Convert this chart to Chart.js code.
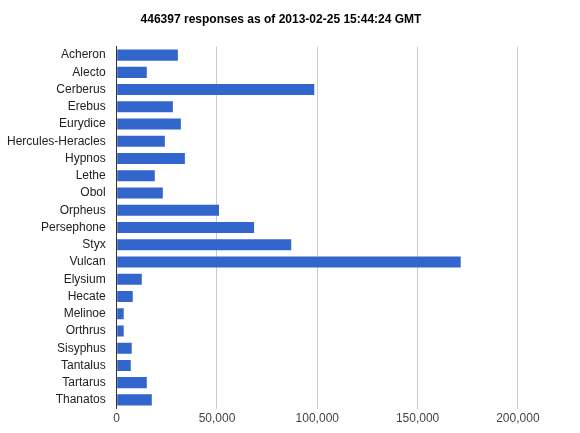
<!DOCTYPE html>
<html><head><meta charset="utf-8">
<script src="https://cdn.jsdelivr.net/npm/chart.js@4"></script>
<style>html,body{margin:0;background:#fff}#wrap{width:580px;height:433px}</style>
</head><body><div id="wrap"><canvas id="c"></canvas></div>
<script>
const labels = ["Acheron","Alecto","Cerberus","Erebus","Eurydice","Hercules-Heracles","Hypnos","Lethe","Obol","Orpheus","Persephone","Styx","Vulcan","Elysium","Hecate","Melinoe","Orthrus","Sisyphus","Tantalus","Tartarus","Thanatos"];
const responses = [30500,15000,98500,28000,32000,24000,34000,19000,23000,51000,68500,87000,171500,12500,8000,3500,3500,7500,7000,15000,17500];
const xTicks = [0,50000,100000,150000,200000];

new Chart(document.getElementById('c'), {
  type: 'bar',
  data: { labels: labels, datasets: [{ data: responses, backgroundColor: '#3366cc', barPercentage: 0.65, categoryPercentage: 1 }] },
  options: {
    indexAxis: 'y', responsive: true, maintainAspectRatio: false, animation: false,
    layout: { padding: { left: 4, right: 22, top: 4, bottom: 4 } },
    plugins: {
      legend: { display: false },
      title: { display: true, text: '446397 responses as of 2013-02-25 15:44:24 GMT', color: '#000', font: { family: 'Arial, Liberation Sans', size: 12, weight: 'bold' }, padding: { top: 8, bottom: 20 } }
    },
    scales: {
      x: { min: 0, max: 220000, afterBuildTicks: a => { a.ticks = xTicks.map(v => ({ value: v })); },
        ticks: { color: '#444', font: { family: 'Arial, Liberation Sans', size: 12 } },
        grid: { color: '#ccc', drawTicks: false }, border: { display: false } },
      y: { ticks: { color: '#222', font: { family: 'Arial, Liberation Sans', size: 12 }, autoSkip: false },
        grid: { display: false }, border: { color: '#333' } }
    }
  }
});
</script></body></html>
